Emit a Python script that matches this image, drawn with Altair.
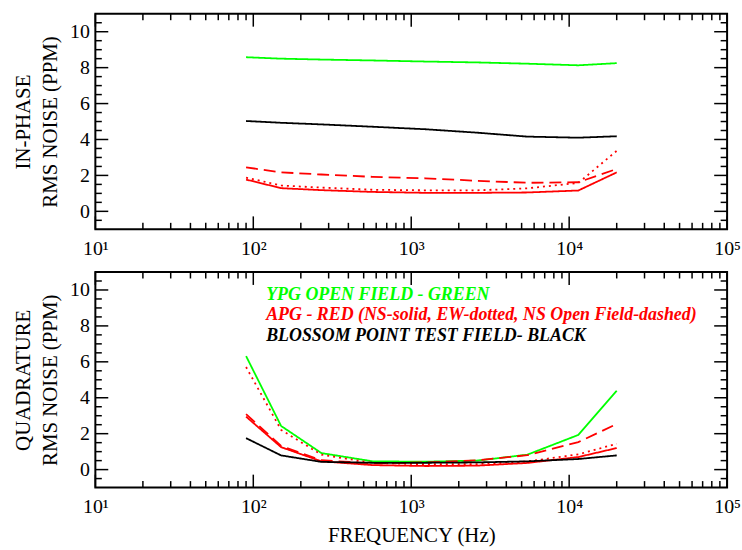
import altair as alt
import pandas as pd

# ---------------- data ----------------
FREQ = [90, 150, 270, 570, 1230, 2610, 5430, 11430, 20010]

SERIES = ["YPG", "APG NS", "APG EW", "APG NS Open", "Blossom"]
SERIES_COLORS = ["#00ff00", "#ff0000", "#ff0000", "#ff0000", "#000000"]
SERIES_DASH = [[1, 0], [1, 0], [2, 4], [12, 6], [1, 0]]

# In-phase RMS noise (PPM)
IP_YPG = [8.58, 8.50, 8.45, 8.40, 8.34, 8.29, 8.22, 8.13, 8.25]
IP_NS = [1.77, 1.29, 1.18, 1.08, 1.03, 1.03, 1.05, 1.16, 2.17]
IP_EW = [1.88, 1.44, 1.32, 1.20, 1.17, 1.17, 1.28, 1.58, 3.37]
IP_OPEN = [2.45, 2.17, 2.05, 1.92, 1.84, 1.70, 1.59, 1.62, 2.36]
IP_BLOSSOM = [5.03, 4.93, 4.84, 4.71, 4.57, 4.38, 4.16, 4.10, 4.18]

# Quadrature RMS noise (PPM)
Q_YPG = [6.32, 2.43, 0.92, 0.46, 0.44, 0.50, 0.83, 1.93, 4.39]
Q_NS = [2.95, 1.25, 0.46, 0.25, 0.20, 0.22, 0.37, 0.70, 1.20]
Q_EW = [5.71, 2.21, 0.83, 0.37, 0.30, 0.30, 0.45, 0.85, 1.44]
Q_OPEN = [3.09, 1.32, 0.52, 0.35, 0.40, 0.52, 0.80, 1.53, 2.54]
Q_BLOSSOM = [1.75, 0.79, 0.43, 0.38, 0.38, 0.40, 0.46, 0.59, 0.79]

X_MAJOR = [10, 100, 1000, 10000, 100000]
X_MINOR = [m * d for d in [10, 100, 1000, 10000] for m in range(2, 10)]
Y_MAJOR = [0, 2, 4, 6, 8, 10]
Y_MINOR = [-0.5, 0.5, 1, 1.5, 2.5, 3, 3.5, 4.5, 5, 5.5, 6.5, 7, 7.5, 8.5, 9, 9.5, 10.5]

LEGEND_LINES = [
    "YPG OPEN FIELD - GREEN",
    "APG - RED (NS-solid, EW-dotted, NS Open Field-dashed)",
    "BLOSSOM POINT TEST FIELD- BLACK",
]
LEGEND_COLORS = ["#00ff00", "#ff0000", "#000000"]


def long_df(cols):
    rows = []
    for name, vals in zip(SERIES, cols):
        for f, v in zip(FREQ, vals):
            rows.append({"freq": f, "value": v, "series": name})
    return pd.DataFrame(rows)


ip_df = long_df([IP_YPG, IP_NS, IP_EW, IP_OPEN, IP_BLOSSOM])
q_df = long_df([Q_YPG, Q_NS, Q_EW, Q_OPEN, Q_BLOSSOM])

# ---------------- styling ----------------
FONT = "Liberation Serif"
W = 636
H = 217
MAJ = 13
MIN = 6.5

xscale = alt.Scale(type="log", domain=[10, 100000], nice=False)
yscale = alt.Scale(domain=[-1, 11], nice=False, zero=False)

sup_expr = "'10' + ['\u2070','\u00b9','\u00b2','\u00b3','\u2074','\u2075'][round(log(datum.value)/LN10)]"


def panel(df, ytitle, xtitle, legend=False):
    xaxis = alt.Axis(
        values=X_MAJOR, labelExpr=sup_expr, ticks=False, domain=False, grid=False,
        labelFont=FONT, labelFontSize=20, labelColor="black", labelPadding=9,
        labelFlush=False, labelOverlap=False, labelBound=False,
        title=xtitle if xtitle else "", titleFont=FONT, titleFontSize=21,
        titleFontWeight="normal", titleColor="black", titlePadding=8,
    )
    yaxis = alt.Axis(
        values=Y_MAJOR, ticks=False, domain=False, grid=False,
        labelFont=FONT, labelFontSize=20, labelColor="black", labelPadding=6,
        labelFlush=False, labelOverlap=False,
        title=ytitle, titleFont=FONT, titleFontSize=21, titleFontWeight="normal",
        titleColor="black", titlePadding=9, titleLineHeight=27,
    )
    lines = alt.Chart(df).mark_line(strokeWidth=1.8, clip=True).encode(
        x=alt.X("freq:Q", scale=xscale, axis=xaxis),
        y=alt.Y("value:Q", scale=yscale, axis=yaxis),
        color=alt.Color("series:N", scale=alt.Scale(domain=SERIES, range=SERIES_COLORS), legend=None),
        strokeDash=alt.StrokeDash("series:N", scale=alt.Scale(domain=SERIES, range=SERIES_DASH), legend=None),
    )
    layers = [lines]

    def yt(vals, size):
        d = pd.DataFrame({"t": vals})
        left = alt.Chart(d).mark_rule(color="black", strokeWidth=1.5).encode(
            y=alt.Y("t:Q", scale=yscale, axis=yaxis), x=alt.value(0), x2=alt.value(size))
        right = alt.Chart(d).mark_rule(color="black", strokeWidth=1.5).encode(
            y=alt.Y("t:Q", scale=yscale, axis=yaxis), x=alt.value(W), x2=alt.value(W - size))
        return [left, right]

    def xt(vals, size):
        d = pd.DataFrame({"t": vals})
        bot = alt.Chart(d).mark_rule(color="black", strokeWidth=1.5).encode(
            x=alt.X("t:Q", scale=xscale, axis=xaxis), y=alt.value(H), y2=alt.value(H - size))
        top = alt.Chart(d).mark_rule(color="black", strokeWidth=1.5).encode(
            x=alt.X("t:Q", scale=xscale, axis=xaxis), y=alt.value(0), y2=alt.value(size))
        return [bot, top]

    layers += yt(Y_MAJOR, MAJ) + yt(Y_MINOR, MIN) + xt(X_MAJOR, MAJ) + xt(X_MINOR, MIN)

    if legend:
        for i, (txt, col) in enumerate(zip(LEGEND_LINES, LEGEND_COLORS)):
            layers.append(
                alt.Chart(pd.DataFrame({"t": [txt]})).mark_text(
                    font=FONT, fontSize=18, fontStyle="italic", fontWeight="bold",
                    align="left", baseline="alphabetic", color=col,
                ).encode(text="t:N", x=alt.value(172), y=alt.value(28 + 20.8 * i))
            )

    return alt.layer(*layers).properties(width=W, height=H)


top = panel(ip_df, ["IN-PHASE", "RMS NOISE (PPM)"], None)
bottom = panel(q_df, ["QUADRATURE", "RMS NOISE (PPM)"], "FREQUENCY (Hz)", legend=True)

chart = (
    alt.vconcat(top, bottom, spacing=43, bounds="flush")
    .properties(padding={"left": 12, "top": 10, "right": 0, "bottom": 0}, background="white")
    .configure(font=FONT)
    .configure_axis(labelFont=FONT, titleFont=FONT)
    .configure_text(font=FONT)
    .configure_view(stroke="black", strokeWidth=2)
)

chart.save("out.html", embed_options={"renderer": "svg", "actions": False})
